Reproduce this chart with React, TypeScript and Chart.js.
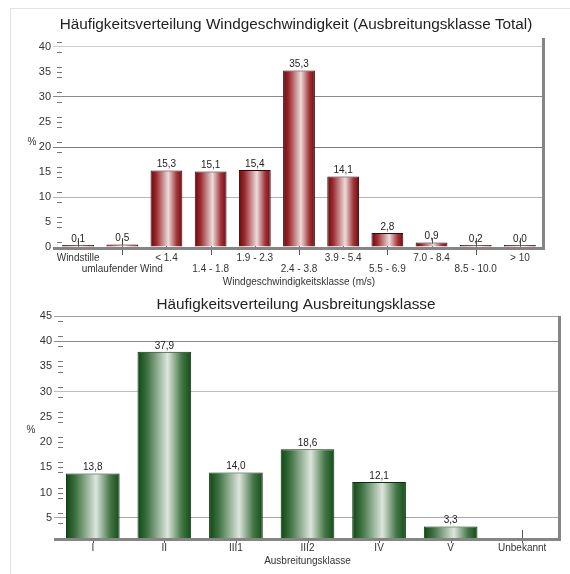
import React, { useEffect, useRef } from 'react';
import { Chart, registerables } from 'chart.js';

Chart.register(...registerables);

const FONT = '"Liberation Sans", Arial, Helvetica, sans-serif';

// ---- Data: wind speed distribution ----
const windTitle = 'Häufigkeitsverteilung Windgeschwindigkeit (Ausbreitungsklasse Total)';
const windCategories = ['Windstille', 'umlaufender Wind', '< 1.4', '1.4 - 1.8', '1.9 - 2.3', '2.4 - 3.8', '3.9 - 5.4', '5.5 - 6.9', '7.0 - 8.4', '8.5 - 10.0', '> 10'];
const windValues = [0.1, 0.5, 15.3, 15.1, 15.4, 35.3, 14.1, 2.8, 0.9, 0.2, 0.0];
const windYTicks = [0, 5, 10, 15, 20, 25, 30, 35, 40];
const windXTitle = 'Windgeschwindigkeitsklasse (m/s)';

// ---- Data: stability class distribution ----
const classTitle = 'Häufigkeitsverteilung Ausbreitungsklasse';
const classCategories = ['I', 'II', 'III1', 'III2', 'IV', 'V', 'Unbekannt'];
const classValues = [13.8, 37.9, 14.0, 18.6, 12.1, 3.3, 0.0];
const classYTicks = [5, 10, 15, 20, 25, 30, 35, 40, 45];
const classXTitle = 'Ausbreitungsklasse';

const windGridColors: Record<number, string> = { 10: '#b4b4b4', 20: '#7a7a7a', 30: '#8a8a8a', 40: '#cfcfcf' };
const classGridColors: Record<number, string> = { 5: '#a8a8a8', 30: '#bdbdbd', 40: '#8c8c8c', 45: '#a0a0a0' };

const redStops: [number, string][] = [[0, '#650a0d'], [0.18, '#9c2a2e'], [0.56, '#ecdcdc'], [0.82, '#a3363a'], [1, '#6d0c10']];
const greenStops: [number, string][] = [[0, '#0e4711'], [0.18, '#3f7242'], [0.56, '#dde6dd'], [0.82, '#467848'], [1, '#124d16']];

function gradientFill(stops: [number, string][], barPct: number) {
  return (ctx: any) => {
    const chart = ctx.chart;
    const xs = chart.scales && chart.scales.x;
    if (ctx.type !== 'data' || !xs || !chart.chartArea) return stops[1][1];
    const n = xs.getLabels().length;
    const cx = xs.getPixelForValue(ctx.dataIndex);
    const w = (xs.width / n) * barPct;
    const g = chart.ctx.createLinearGradient(cx - w / 2, 0, cx + w / 2, 0);
    stops.forEach(([o, c]) => g.addColorStop(o, c));
    return g;
  };
}

function decorPlugin(o: {
  id: string; title: string; titleX: number; titleY: number; percentX: number; percentY: number;
  gridColors: Record<number, string>; tickUp: number; tickDown: number[];
}) {
  return {
    id: o.id,
    beforeDatasetsDraw(chart: any) {
      const { ctx, chartArea } = chart;
      const xs = chart.scales.x;
      const ys = chart.scales.y;
      ctx.save();
      ctx.strokeStyle = '#555';
      ctx.lineWidth = 1;
      // x tick marks at category centers
      xs.getLabels().forEach((_: any, i: number) => {
        const x = Math.round(xs.getPixelForValue(i)) + 0.5;
        ctx.beginPath();
        ctx.moveTo(x, chartArea.bottom - o.tickUp);
        ctx.lineTo(x, chartArea.bottom + o.tickDown[i % 2]);
        ctx.stroke();
      });
      // minor y dashes
      ctx.strokeStyle = '#777';
      for (let v = Math.ceil(ys.min); v <= ys.max; v++) {
        const m = v % 5;
        const isMajorNoGrid = m === 0 && !o.gridColors[v];
        if (m === 1 || m === 4 || isMajorNoGrid) {
          const y = Math.round(ys.getPixelForValue(v)) + 0.5;
          if (y > chartArea.bottom - 2) continue;
          ctx.beginPath();
          ctx.moveTo(chartArea.left + 1, y);
          ctx.lineTo(chartArea.left + 6, y);
          ctx.stroke();
        }
      }
      ctx.restore();
    },
    afterDatasetsDraw(chart: any) {
      const { ctx, chartArea } = chart;
      const ys = chart.scales.y;
      ctx.save();
      // frame: thick right & bottom borders
      ctx.strokeStyle = '#858585';
      ctx.lineWidth = 3;
      ctx.beginPath();
      ctx.moveTo(chartArea.right + 1.5, chartArea.top);
      ctx.lineTo(chartArea.right + 1.5, chartArea.bottom + 3);
      ctx.stroke();
      ctx.beginPath();
      ctx.moveTo(chartArea.left - 3, chartArea.bottom + 1.5);
      ctx.lineTo(chartArea.right + 3, chartArea.bottom + 1.5);
      ctx.stroke();
      // value labels
      const meta = chart.getDatasetMeta(0);
      const data = chart.data.datasets[0].data as number[];
      ctx.fillStyle = '#222';
      ctx.font = `10px ${FONT}`;
      ctx.textAlign = 'center';
      ctx.textBaseline = 'bottom';
      meta.data.forEach((el: any, i: number) => {
        const v = data[i];
        if (v == null || v < ys.min) return;
        const top = Math.min(el.y, chartArea.bottom - 2);
        ctx.fillText(v.toFixed(1).replace('.', ','), el.x, top - 1);
      });
      ctx.restore();
    },
    afterDraw(chart: any) {
      const { ctx } = chart;
      ctx.save();
      ctx.fillStyle = '#222';
      ctx.font = `15.3px ${FONT}`;
      ctx.textAlign = 'center';
      ctx.textBaseline = 'middle';
      ctx.fillText(o.title, o.titleX, o.titleY);
      ctx.fillStyle = '#333';
      ctx.font = `10px ${FONT}`;
      ctx.fillText('%', o.percentX, o.percentY);
      ctx.restore();
    },
  };
}

function makeConfig(p: {
  categories: string[]; values: number[]; yTicks: number[]; yMin: number; yMax: number;
  gridColors: Record<number, string>; stops: [number, string][]; borderColor: string; barPct: number;
  twoRows: boolean; xTitle: string; xTitlePadBottom: number; xHeight: number; yWidth: number;
  padTop: number; padRight: number; labelPad: number; minBar: number; plugin: any;
}): any {
  return {
    type: 'bar',
    data: {
      labels: p.categories,
      datasets: [{
        data: p.values,
        backgroundColor: gradientFill(p.stops, p.barPct),
        borderColor: p.borderColor,
        borderWidth: 1,
        barPercentage: p.barPct,
        categoryPercentage: 1,
        minBarLength: p.minBar,
        clip: 0,
      }],
    },
    options: {
      responsive: false,
      animation: false,
      layout: { padding: { top: p.padTop, right: p.padRight, left: 0, bottom: 0 } },
      plugins: { legend: { display: false }, tooltip: { enabled: false }, title: { display: false } },
      scales: {
        x: {
          type: 'category',
          offset: true,
          grid: { display: false, drawTicks: false },
          border: { display: false },
          ticks: {
            autoSkip: false,
            maxRotation: 0,
            minRotation: 0,
            padding: p.labelPad,
            color: '#333',
            font: { size: 10, family: FONT, lineHeight: 1.1 },
            callback: (_v: any, i: number) => p.twoRows ? (i % 2 === 0 ? [p.categories[i], ''] : ['', p.categories[i]]) : p.categories[i],
          },
          title: { display: true, text: p.xTitle, color: '#333', font: { size: 10, family: FONT }, padding: { top: 0, bottom: p.xTitlePadBottom } },
          afterFit: (s: any) => { s.height = p.xHeight; },
        },
        y: {
          min: p.yMin,
          max: p.yMax,
          afterBuildTicks: (s: any) => { s.ticks = p.yTicks.map((v) => ({ value: v })); },
          grid: {
            color: (c: any) => (c.tick && p.gridColors[c.tick.value]) || 'rgba(0,0,0,0)',
            tickColor: (c: any) => (c.tick && p.gridColors[c.tick.value]) || 'rgba(0,0,0,0)',
            drawTicks: true,
            tickLength: 3,
            lineWidth: 1,
          },
          border: { display: false },
          ticks: { padding: 2, color: '#333', font: { size: 11, family: FONT } },
          afterFit: (s: any) => { s.width = p.yWidth; },
        },
      },
    },
    plugins: [p.plugin],
  };
}

function BarCanvas({ config, width, height, top }: { config: () => any; width: number; height: number; top: number }) {
  const ref = useRef<HTMLCanvasElement | null>(null);
  useEffect(() => {
    if (!ref.current) return;
    const chart = new Chart(ref.current, config());
    return () => chart.destroy();
  }, []);
  return (
    <canvas
      ref={ref}
      width={width}
      height={height}
      style={{ position: 'absolute', left: 0, top, width, height, display: 'block' }}
    />
  );
}

export default function App() {
  const windConfig = () => makeConfig({
    categories: windCategories, values: windValues, yTicks: windYTicks, yMin: 0, yMax: 41.8,
    gridColors: windGridColors, stops: redStops, borderColor: '#3a0406', barPct: 0.72,
    twoRows: true, xTitle: windXTitle, xTitlePadBottom: 2, xHeight: 43, yWidth: 56,
    padTop: 38, padRight: 28, labelPad: 5.5, minBar: 2,
    plugin: decorPlugin({ id: 'decorWind', title: windTitle, titleX: 296, titleY: 25, percentX: 32, percentY: 142, gridColors: windGridColors, tickUp: 9, tickDown: [3, 8] }),
  });
  const classConfig = () => makeConfig({
    categories: classCategories, values: classValues, yTicks: classYTicks, yMin: 1, yMax: 45,
    gridColors: classGridColors, stops: greenStops, borderColor: '#0b2e0c', barPct: 0.75,
    twoRows: false, xTitle: classXTitle, xTitlePadBottom: 7, xHeight: 36, yWidth: 57,
    padTop: 26, padRight: 12, labelPad: 4.5, minBar: 0,
    plugin: decorPlugin({ id: 'decorClass', title: classTitle, titleX: 296, titleY: 15, percentX: 31, percentY: 140, gridColors: classGridColors, tickUp: 8, tickDown: [5, 5] }),
  });
  return (
    <div style={{ position: 'absolute', left: 0, top: 0, width: 570, height: 574, background: '#fff', overflow: 'hidden' }}>
      <div style={{ position: 'absolute', left: 10, top: 8, width: 580, height: 600, borderTop: '1px solid #e2e2e2', borderLeft: '1px solid #e2e2e2' }} />
      <BarCanvas config={windConfig} width={570} height={290} top={0} />
      <BarCanvas config={classConfig} width={570} height={284} top={290} />
    </div>
  );
}
